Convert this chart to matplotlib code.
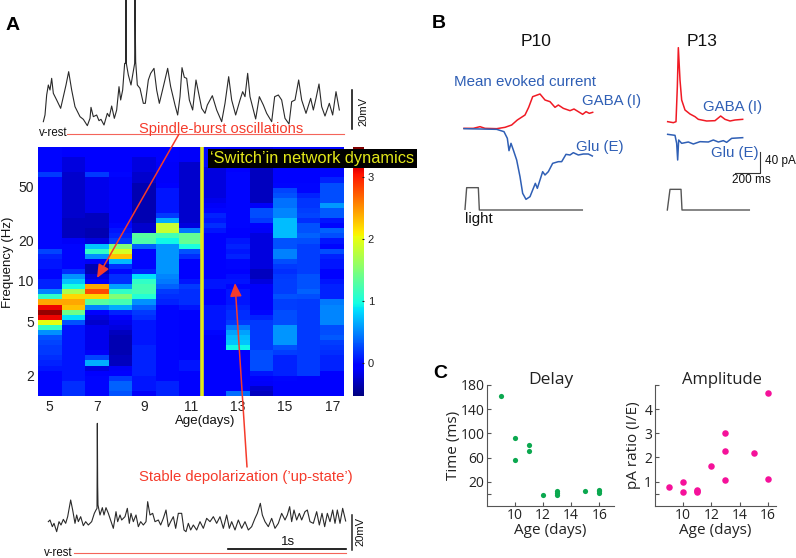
import numpy as np
import matplotlib
matplotlib.use("Agg")
import matplotlib.pyplot as plt

plt.rcParams['font.family'] = ['Liberation Sans', 'DejaVu Sans']

W, H = 796, 558
ages = [5, 6, 7, 8, 9, 10, 11, 12, 13, 14, 15, 16, 17]
age5 = [0,0,0,0,0,.2,0,0,0,0, 0,0,0,0,0,0,0,0,0,0, .25,.1,.05,.05,0,0,.1,.1,.5,1.1, 2.4,3.1,3.4,3.1,2.0,1.1,.55,.3,.25,.2, .2,.15,.1,.05,0,0,0,0,0]
age6 = [-.05,-.05,-.2,-.2,-.2,-.25,-.25,-.25,-.25,-.25, -.25,-.25,-.25,-.25,-.3,-.3,-.3,-.3,-.1,0, 0,0,0,0,.15,.55,.75,1.0,1.7,2.2, 2.4,2.3,1.4,.85,.3,.05,.05,.05,.05,.05, .05,.05,.05,.05,.05,.05,.15,.15,.15]
age7 = [-.05,-.05,-.05,-.05,-.05,.2,-.15,-.15,-.15,-.15, -.15,-.15,-.15,-.3,-.3,-.3,-.35,-.35,-.2,.75, 1.1,.55,-.1,-.35,-.35,-.2,-.1,2.4,2.8,2.2, 1.3,.5,-.05,-.2,-.25,-.15,-.15,-.15,-.15,-.15, -.1,.25,.65,-.2,-.05,0,0,0,0]
age8 = [-.05,-.05,-.05,-.05,-.05,0,-.1,-.1,-.1,-.1, -.1,-.1,-.1,-.1,-.1,0,.05,.1,.2,1.5, 1.9,2.3,.7,.15,0,.15,.15,.6,1.1,1.5, 1.2,.65,.1,-.05,-.15,-.2,-.3,-.35,-.35,-.35, -.35,-.3,-.3,-.1,-.05,.2,.35,.35,.3]
age9 = [-.05,-.05,-.2,-.2,-.2,-.25,-.25,-.35,-.35,-.35, -.35,-.35,-.35,-.35,-.35,-.25,-.25,1.3,1.25,.35, 0,0,0,0,.1,.85,1.1,1.2,1.2,1.05, .55,.35,.2,.15,.05,.05,.05,.05,.05,.1, .1,.1,.1,.1,.1,.05,.05,.05,-.1]
age10 = [-.05,-.05,-.05,-.1,-.1,-.1,-.1,-.05,.05,.05, .05,.05,.05,.2,.65,1.85,1.85,1.2,.95,.56, .56,.56,.56,.56,.56,.5,.45,.35,.2,.15, .1,0,0,0,0,0,0,0,0,0, 0,0,0,0,0,0,.1,.1,.1]
age11 = [-.1,-.1,-.1,-.25,-.25,-.25,-.25,-.25,-.25,-.25, -.25,-.25,-.25,-.25,-.25,-.2,.45,1.35,1.35,1.0, .3,.15,-.05,-.05,-.05,-.05,.05,.2,.15,.15, .15,.05,-.02,-.02,-.02,-.02,-.02,-.02,-.02,-.02, -.02,-.02,.05,.05,-.02,-.02,-.02,-.02,-.02]
age12 = [0,0,0,0,-.2,-.2,-.2,-.2,-.2,-.2, -.15,-.1,0,.1,.05,.15,.05,-.05,-.05,-.05, -.05,-.05,-.05,-.05,-.05,-.05,.05,.05,-.05,-.05, -.05,.05,.05,.05,.05,.05,0,-.1,-.05,-.05, -.05,-.05,-.05,-.05,-.05,-.05,-.05,-.05,-.05]
age13 = [-.05,-.05,-.05,-.05,-.05,0,0,0,0,0, 0,0,0,0,0,0,-.05,-.05,.05,.1, .05,.1,0,0,-.05,.02,.05,0,.05,.05, .05,.1,.15,.15,.2,.45,.6,.7,.75,.95, -.05,-.05,-.05,-.05,-.05,-.05,-.05,-.05,.4]
age14 = [-.15,-.15,-.15,-.15,-.3,-.3,-.3,-.3,-.3,-.3, -.3,-.1,.28,.28,.2,-.05,-.1,-.2,-.2,-.2, -.2,-.2,-.2,-.2,-.3,-.3,-.2,-.1,-.1,-.1, -.1,-.1,0,.1,.2,.2,.2,.2,.2,.2, .28,.28,.28,.28,.05,-.05,-.1,-.25,-.3]
age15 = [-.02,-.02,-.02,-.02,-.02,-.02,-.02,0,.25,.3, .42,.42,.5,.5,.72,.72,.72,.72,.3,.3, .48,.48,.28,.2,.15,.2,.22,.22,.22,.3, .22,.22,.28,.28,.28,.56,.56,.56,.56,.3, .22,.1,.1,.1,.1,0,-.02,-.02,-.02]
age16 = [-.02,-.02,-.02,-.02,-.02,-.02,-.02,0,0,.1, .18,.18,.22,.25,.15,.3,.3,.35,.28,.22, .22,.22,.22,.22,.22,.3,.3,.3,.35,.28, .2,.2,.2,.2,.2,.2,.2,.2,.2,.2, .2,.2,.2,.2,.2,-.02,-.02,-.02,-.02]
age17 = [0,0,0,0,0,0,.1,.28,.28,.28, .28,.58,.32,.32,.05,0,.36,.28,.05,0, .28,.1,.05,.05,-.02,-.02,.05,.1,.1,.1, .45,.5,.5,.5,.5,.28,.28,.32,.22,.18, .15,.1,.1,.1,-.05,-.05,-.05,-.05,-.05]
power = np.array([age5, age6, age7, age8, age9, age10, age11, age12, age13, age14, age15, age16, age17]).T
freq_top, freq_bottom = 98, 1.4
freq_ticks = [2, 5, 10, 20, 50]
age_ticks = [5, 7, 9, 11, 13, 15, 17]
cbar_ticks = [0, 1, 2, 3]

top_t = [130,135,140,145,150,155,160,170,182,190,198,206,215,225,240,250,262,270,273,280,290,297,303,312,322,328,335,343,350,357,362,368,374,377,378,379,385,393,398,404,405,407,412,420,430,436,445,452,462,470,478,490,503,512,525,533,540,546,553,560,568,578,588,595,605,615,622,637,650,665,675,686,695,707,720,728,735,743,750,767,778,790,800,815,824,835,845,855,867,875,885,896,905,918,932,940,948,957,965,975,988,998,1008,1018]
top_v = [365,345,285,255,270,235,280,300,325,290,255,215,270,320,350,358,377,355,322,350,345,362,358,375,340,350,318,355,330,260,300,270,190,190,0,190,225,255,225,190,0,185,255,265,310,310,240,220,205,270,310,260,205,260,315,345,290,203,232,235,300,330,240,275,325,340,315,287,330,365,310,230,300,345,300,275,290,220,290,357,290,315,340,365,290,285,300,355,372,305,300,240,300,340,295,330,295,252,320,348,310,345,275,330]
bot_t = [55,60,67,72,80,87,93,100,107,113,122,128,135,140,145,152,160,167,175,185,193,198,201,202,203,204,210,217,222,228,235,240,250,258,263,270,275,285,292,298,303,310,318,325,332,340,348,353,360,368,375,385,392,400,408,415,422,430,437,445,455,462,468,475,482,490,500,510,520,530,540,550,560,570,580,590,598,605,615,625,635,645,655,665,675,682,691,697,705,715,725,735,745,755,765,772,779,785,792,800,808,815,825,832,840,850,860,868,876,884,892,900,908,915,922,930,938,947]
bot_v = [320,315,335,325,350,320,330,313,325,305,255,285,325,300,320,305,332,320,330,320,295,285,280,25,210,270,300,278,300,278,295,310,340,290,320,300,315,305,280,325,295,320,300,335,320,330,320,260,300,295,320,315,330,310,285,335,320,305,340,295,295,345,350,325,345,330,345,320,340,310,320,305,325,305,340,300,340,320,345,315,340,320,345,335,310,295,265,300,320,335,310,340,325,295,315,300,275,320,285,315,295,315,290,285,320,325,290,330,295,335,295,320,285,325,285,325,280,318]

p10_gaba_t = [102,130,150,165,200,225,245,262,285,296,308,330,345,360,375,385,400,420,432,445,458,468,478,488]
p10_gaba = [325,325,320,325,326,322,315,300,285,262,230,222,240,245,262,255,265,272,267,275,283,275,280,277]
p10_glu_t = [102,200,222,232,237,243,250,260,270,278,288,300,310,316,322,330,338,345,355,368,385,395,408,420,430,445,460,475,487]
p10_glu = [326,328,335,355,392,370,390,420,470,520,538,530,505,490,505,480,455,465,455,430,425,425,403,405,398,405,402,402,408]
p10_light_t = [105,110,145,148,457]
p10_light = [568,503,503,570,570]
p13_gaba_t = [713,730,738,742,745,750,755,765,780,795,805,830,855,872,885,900,915,938]
p13_gaba = [305,308,305,200,83,180,240,270,282,290,298,303,302,288,298,303,300,298]
p13_glu_t = [713,735,740,743,746,755,775,790,810,835,850,865,880,890,905,938]
p13_glu = [343,346,370,420,360,370,366,372,365,366,360,366,362,367,355,353]
p13_light_t = [712,720,753,756,958]
p13_light = [570,508,508,570,570]

delay_age = [9,10,10,11,11,12,13,13,13,15,16,16,16]
delay_ms = [162,92,56,81,70,-2,4.5,1.8,-1.5,4,7,4,1.8]
ratio_age = [9,10,10,11,11,11,12,13,13,13,15,16,16]
ratio_ie = [.76,1.0,.56,.65,.56,.6,1.65,3.03,2.28,1.07,2.19,4.66,1.12]

fig = plt.figure(figsize=(W/100, H/100), dpi=100)

def px_axes(x0, y0, x1, y1, **kw):
    return fig.add_axes([x0/W, 1-y1/H, (x1-x0)/W, (y1-y0)/H], **kw)

def crop_axes(x0, y0, w, h):
    a = px_axes(x0, y0, x0+w, y0+h)
    a.set_xlim(0, w*3); a.set_ylim(h*3, 0)
    a.axis('off'); a.patch.set_alpha(0)
    return a

# --- Panel A heat map
ax = px_axes(38, 147, 344, 396)
age_edges = np.arange(4.5, 18.5)
freq_edges = np.geomspace(freq_top, freq_bottom, power.shape[0]+1)
mesh = ax.pcolormesh(age_edges, freq_edges, power, cmap='jet', vmin=-0.53, vmax=3.48, shading='flat')
ax.set_yscale('log')
ax.set_ylim(freq_bottom, freq_top)
ax.set_xlim(4.5, 17.5)
ax.set_yticks(freq_ticks); ax.set_yticklabels([str(f) for f in freq_ticks], fontsize=10, color='#222222')
ax.minorticks_off()
ax.set_xticks(age_ticks); ax.set_xticklabels([str(a) for a in age_ticks], fontsize=10, color='#222222')
ax.tick_params(length=0, pad=3)
for s in ax.spines.values():
    s.set_visible(False)
ax.axvline(11.47, color='#E3E81A', lw=2.6)

cax = px_axes(352.5, 147, 363.5, 396)
cb = fig.colorbar(mesh, cax=cax)
cb.set_ticks(cbar_ticks)
cb.ax.tick_params(labelsize=8, length=1.5, pad=3, colors='#222222', direction='in')
cb.outline.set_visible(False)

# --- overlay for annotations, full-figure pixel frame
ov = px_axes(0, 0, W, H)
ov.set_xlim(0, W); ov.set_ylim(H, 0); ov.axis('off'); ov.patch.set_alpha(0)

red = '#F53B2B'
blue = '#2F5FB5'
def T(x, y, s, size=9, color='#111111', **kw):
    kw.setdefault('ha', 'center'); kw.setdefault('va', 'center')
    return ov.text(x, y, s, fontsize=size, color=color, **kw)

for x, y, s in [(13, 26, 'A'), (439, 24, 'B'), (440, 374, 'C')]:
    T(x, y, s, size=14, fontweight='bold', color='black')
T(8, 262, 'Frequency (Hz)', size=9.5, rotation=90)
T(205, 421, 'Age(days)', size=9.5)
T(312.5, 158.5, '\u2018Switch\u2019in network dynamics', size=11.8, color='#E3E81A',
  bbox=dict(facecolor='black', edgecolor='none', pad=1.5))
T(221, 128.5, 'Spindle-burst oscillations', size=10.6, color=red)
T(246, 477.5, 'Stable depolarization (\u2019up-state\u2019)', size=10.7, color=red)
T(53, 133.5, 'v-rest', size=8.3)
T(58, 552.5, 'v-rest', size=8.3)
T(288, 542, '1s', size=9.5)
T(363, 112, '20mV', size=8, rotation=90)
T(360, 532, '20mV', size=8, rotation=90)

ov.plot([67, 344], [133.5, 133.5], color='#F4645A', lw=0.8)
ov.plot([74, 346], [552.5, 552.5], color='#F4645A', lw=0.8)
ov.plot([228, 346], [549, 549], color='black', lw=1.2)
ov.plot([352, 352], [90, 129], color='black', lw=1.1)
ov.plot([352, 352], [515, 550], color='#222222', lw=1.1)

for src, dst in [((179, 134), (97, 278)), ((247, 467), (235, 283))]:
    ov.annotate('', xy=dst, xytext=src,
                arrowprops=dict(arrowstyle='-|>,head_length=0.8,head_width=0.35', color=red, lw=1.1,
                                shrinkA=0, shrinkB=0))

# --- voltage traces
a1 = crop_axes(0, 0, 420, 145)
a1.plot(top_t, top_v, color='#2a2a2a', lw=0.8)
a2 = crop_axes(30, 415, 340, 143)
a2.plot(bot_t, bot_v, color='#2a2a2a', lw=0.8)

# --- Panel B
b = crop_axes(430, 20, 366, 220)
b.plot(p10_gaba_t, p10_gaba, color='#F01A24', lw=1.1)
b.plot(p10_glu_t, p10_glu, color=blue, lw=1.1)
b.plot(p10_light_t, p10_light, color='#555555', lw=1.0)
b.plot(p13_gaba_t, p13_gaba, color='#F01A24', lw=1.1)
b.plot(p13_glu_t, p13_glu, color=blue, lw=1.1)
b.plot(p13_light_t, p13_light, color='#555555', lw=1.0)
b.plot([915, 990, 990], [458, 458, 395], color='#333333', lw=0.8)

T(536, 41.5, 'P10', size=12.5)
T(702, 41.5, 'P13', size=12.5)
T(525, 82.5, 'Mean evoked current', size=10.9, color=blue)
T(612, 101.5, 'GABA (I)', size=10.8, color=blue)
T(600, 146.5, 'Glu (E)', size=10.8, color=blue)
T(733, 107.5, 'GABA (I)', size=10.8, color=blue)
T(735, 152.5, 'Glu (E)', size=10.8, color=blue)
T(479, 219.5, 'light', size=10.8)
T(780, 161, '40 pA', size=8.5)
T(751, 180, '200 ms', size=8.5)

# --- Panel C
c1 = px_axes(487.3, 385, 614, 505.7)
c1.scatter(delay_age, delay_ms, s=14, color='#0BA84F', linewidths=0, clip_on=False, zorder=3)
c1.set_xlim(8.03, 17.05); c1.set_ylim(-19.7, 180)
c1.set_xticks([10, 12, 14, 16]); c1.set_yticks([0, 20, 60, 100, 140, 180])
c1.set_yticklabels(['', '20', '60', '100', '140', '180'])
c1.set_ylabel('Time (ms)', fontsize=11, fontfamily='Open Sans', labelpad=0, color='#222222')
c1.set_xlabel('Age (days)', fontsize=11, fontfamily='Open Sans', labelpad=0, color='#222222')
T(551, 380, 'Delay', size=12.5, fontfamily='Open Sans', color='#222222')

c2 = px_axes(655, 385, 776, 505.7)
c2.scatter(ratio_age, ratio_ie, s=22, color='#F5119A', linewidths=0, clip_on=False, zorder=3)
c2.set_xlim(8.05, 16.55); c2.set_ylim(0, 5)
c2.set_xticks([10, 12, 14, 16]); c2.set_yticks([.5, 1, 2, 3, 4, 5])
c2.set_yticklabels(['', '1', '2', '3', '4', ''])
c2.set_ylabel('pA ratio (I/E)', fontsize=11, fontfamily='Open Sans', labelpad=2, color='#222222')
c2.set_xlabel('Age (days)', fontsize=11, fontfamily='Open Sans', labelpad=0, color='#222222')
T(722, 380, 'Amplitude', size=12, fontfamily='Open Sans', color='#222222')

for c in (c1, c2):
    c.spines['top'].set_visible(False); c.spines['right'].set_visible(False)
    c.spines['left'].set_color('#555555'); c.spines['bottom'].set_color('#555555')
    c.tick_params(direction='in', length=3, width=0.8, color='#555555', pad=2, labelcolor='#222222')
    c.patch.set_alpha(0)
    for lab in c.get_xticklabels() + c.get_yticklabels():
        lab.set_fontfamily('Open Sans'); lab.set_fontsize(10)

fig.savefig('out.png', dpi=100)
